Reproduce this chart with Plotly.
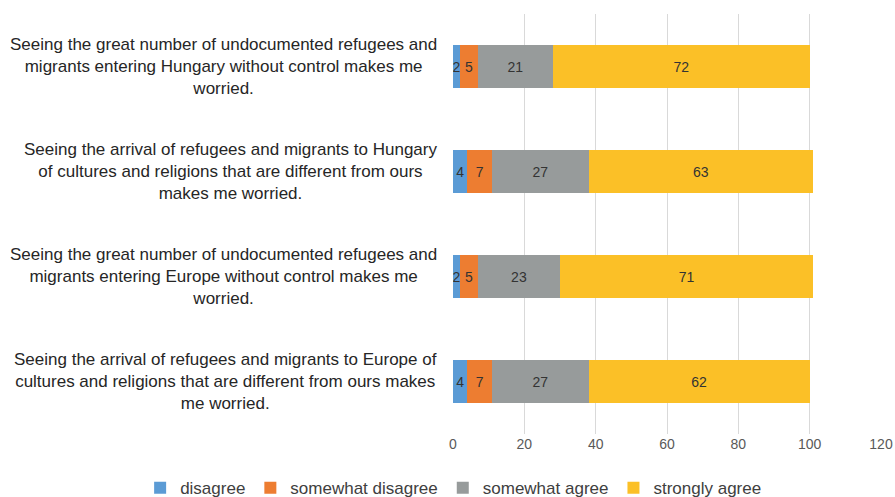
import plotly.graph_objects as go

categories = [
    "Seeing the great number of undocumented refugees and<br>migrants entering Hungary without control makes me<br>worried.",
    "Seeing the arrival of refugees and migrants to Hungary<br>of cultures and religions that are different from ours<br>makes me worried.",
    "Seeing the great number of undocumented refugees and<br>migrants entering Europe without control makes me<br>worried.",
    "Seeing the arrival of refugees and migrants to Europe of<br>cultures and religions that are different from ours makes<br>me worried.",
]
series_names = ["disagree", "somewhat disagree", "somewhat agree", "strongly agree"]
disagree = [2, 4, 2, 4]
somewhat_disagree = [5, 7, 5, 7]
somewhat_agree = [21, 27, 23, 27]
strongly_agree = [72, 63, 71, 62]
colors = ["#5B9BD5", "#ED7D31", "#979B9B", "#FBC027"]
x_ticks = [0, 20, 40, 60, 80, 100, 120]

fig = go.Figure()
for name, vals, col in zip(series_names,
                           [disagree, somewhat_disagree, somewhat_agree, strongly_agree],
                           colors):
    fig.add_trace(go.Bar(
        y=categories, x=vals, name=name, orientation="h",
        marker=dict(color=col, line=dict(width=0)),
        text=[str(v) for v in vals], textposition="inside",
        insidetextanchor="middle",
        textfont=dict(color="#333333", size=14, family="Liberation Sans"),
        hoverinfo="x+name",
    ))

# category labels as centred multi-line annotations
for cat in categories:
    fig.add_annotation(
        x=0, xref="paper", y=cat, yref="y",
        text=cat, showarrow=False, align="center",
        xanchor="right", yanchor="middle", xshift=-14,
        font=dict(family="Liberation Sans", size=17, color="#262626"),
    )

fig.update_layout(
    barmode="stack",
    width=895, height=497,
    margin=dict(l=453, r=14, t=14, b=63, autoexpand=False),
    plot_bgcolor="white", paper_bgcolor="white",
    bargap=0.593,
    uniformtext=dict(minsize=14, mode="show"),
    font=dict(family="Liberation Sans", size=14, color="#262626"),
    legend=dict(orientation="h", xref="paper", yref="paper",
                x=-0.731, xanchor="left", y=-0.129, yanchor="middle",
                font=dict(size=17, color="#404040"), traceorder="normal"),
    xaxis=dict(range=[0, 120], tickvals=x_ticks, showgrid=True,
               gridcolor="#D9D9D9", gridwidth=1, zeroline=False,
               showline=False, ticks="", automargin=False,
               tickfont=dict(family="Liberation Sans", size=14, color="#595959")),
    yaxis=dict(autorange="reversed", showgrid=False, showline=False, ticks="",
               showticklabels=False, automargin=False),
)

fig.write_html(
    "out.html",
    config={"displayModeBar": False},
    post_script="document.body.style.margin='0';document.body.style.overflow='hidden';",
)
